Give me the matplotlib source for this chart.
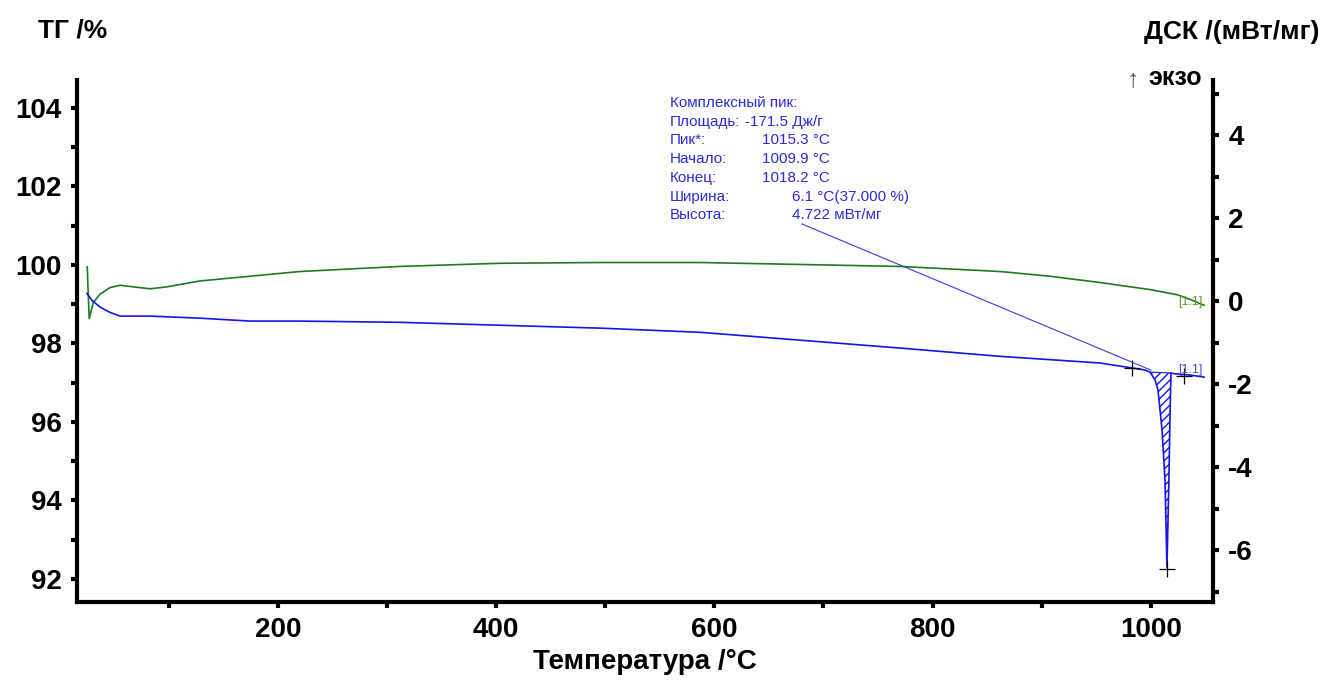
import numpy as np
import matplotlib.pyplot as plt
from matplotlib.ticker import MultipleLocator

plt.rcParams['font.family'] = ['Liberation Sans', 'DejaVu Sans']
plt.rcParams['axes.unicode_minus'] = False

# TG curve (green, left axis)
temp_tg = [25.2, 26.1, 27.0, 30.7, 36.8, 46.0, 55.2, 67.1, 82.7, 98.3, 128.5, 174.3,
           220.0, 311.8, 403.5, 495.0, 587.0, 678.5, 770.0, 862.0, 907.6, 953.4,
           999.3, 1024.0, 1036.0, 1048.8]
tg = [99.95, 99.25, 98.63, 99.04, 99.25, 99.42, 99.48, 99.44, 99.39, 99.44, 99.59, 99.71,
      99.83, 99.96, 100.04, 100.06, 100.06, 100.01, 99.96, 99.83, 99.71, 99.55,
      99.37, 99.24, 99.12, 98.97]

# DSC curve (blue, right axis)
temp_dsc = [24.9, 29.5, 36.8, 46.0, 55.2, 82.7, 128.5, 174.3, 220.2, 311.8, 403.5,
            495.1, 586.8, 678.5, 770.1, 861.8, 953.4, 982.8, 994.7, 999.3, 1003.9,
            1006.6, 1010.3, 1013.0, 1014.8, 1016.6, 1017.5, 1018.5, 1022.1, 1026.7,
            1035.9, 1048.8]
dsc = [0.19, 0.02, -0.14, -0.27, -0.36, -0.36, -0.41, -0.48, -0.48, -0.51, -0.58,
       -0.65, -0.75, -0.94, -1.13, -1.33, -1.49, -1.61, -1.66, -1.71, -1.90,
       -2.14, -3.11, -4.31, -6.41, -4.31, -2.87, -1.73, -1.75, -1.76,
       -1.78, -1.83]

# peak evaluation
peak_base_t = [999.3, 1018.5]
peak_base_dsc = [-1.71, -1.73]
cross_t = [982.8, 1014.8, 1030.4]
cross_dsc = [-1.61, -6.46, -1.80]

info_labels = ['Площадь:', 'Пик*:', 'Начало:', 'Конец:', 'Ширина:', 'Высота:']
info_values = ['-171.5 Дж/г', '1015.3 °C', '1009.9 °C', '1018.2 °C',
               '6.1 °C(37.000 %)', '4.722 мВт/мг']
info_x = [745, 762, 762, 762, 792, 792]

green = '#1f7a1f'
blue = '#1414e6'
txtblue = '#2b2bd6'

fig = plt.figure(figsize=(13.3, 6.8), dpi=100)
ax = fig.add_axes([77 / 1330, 1 - 602 / 680, (1213 - 77) / 1330, (602 - 80) / 680])
ax2 = ax.twinx()

ax.plot(temp_tg, tg, color=green, lw=1.2)
ax2.plot(temp_dsc, dsc, color=blue, lw=1.2)

# hatched peak area
t = np.array(temp_dsc)
d = np.array(dsc)
m = (t >= peak_base_t[0]) & (t <= peak_base_t[1])
base = np.interp(t[m], peak_base_t, peak_base_dsc)
ax2.fill_between(t[m], d[m], base, facecolor='none', edgecolor=blue, hatch='////', lw=0)
ax2.plot(peak_base_t, peak_base_dsc, color=blue, lw=0.8)
ax2.plot(cross_t, cross_dsc, '+', color='black', ms=12, mew=0.9)

# annotation line
ax2.plot([680.3, 1000.0], [1.86, -1.66], color='#3a3ae0', lw=0.8)

ax2.text(1025, -0.02, '[1.1]', color='#5a9a2a', fontsize=9, va='center')
ax2.text(1025, -1.66, '[1.1]', color='#4a4ad0', fontsize=9, va='center')

ax.set_xlim(15.8, 1057)
ax.set_ylim(91.41, 104.71)
ax2.set_ylim(-7.25, 5.33)

ax.xaxis.set_major_locator(MultipleLocator(200))
ax.xaxis.set_minor_locator(MultipleLocator(100))
ax.yaxis.set_major_locator(MultipleLocator(2))
ax.yaxis.set_minor_locator(MultipleLocator(1))
ax2.yaxis.set_major_locator(MultipleLocator(2))
ax2.yaxis.set_minor_locator(MultipleLocator(1))

for a in (ax, ax2):
    a.spines['top'].set_visible(False)
    for s in ('left', 'right', 'bottom'):
        a.spines[s].set_linewidth(3)
    a.tick_params(which='both', direction='out', length=4, width=3, labelsize=20, pad=7)
    for lab in a.get_xticklabels() + a.get_yticklabels():
        lab.set_fontweight('bold')
ax.spines['right'].set_visible(False)
ax2.spines['left'].set_visible(False)
ax2.spines['bottom'].set_visible(False)

ax.set_xlabel('Температура /°C', fontsize=20, fontweight='bold', labelpad=4)

fig.text(38 / 1330, 1 - 30 / 680, 'ТГ /%', fontsize=19, fontweight='bold', va='center')
fig.text(1320 / 1330, 1 - 32 / 680, 'ДСК /(мВт/мг)', fontsize=19, fontweight='bold',
         va='center', ha='right')
fig.text(1127 / 1330, 1 - 79 / 680, '↑', fontsize=18, color='#555577', va='center')
fig.text(1148 / 1330, 1 - 78 / 680, 'экзо', fontsize=18, fontweight='bold', va='center')

y0 = 103
fig.text(670 / 1330, 1 - y0 / 680, 'Комплексный пик:', fontsize=11, color=txtblue, va='center')
for i, (lab, val) in enumerate(zip(info_labels, info_values)):
    yy = 1 - (y0 + 18.7 * (i + 1)) / 680
    fig.text(670 / 1330, yy, lab, fontsize=11, color=txtblue, va='center')
    fig.text(info_x[i] / 1330, yy, val, fontsize=11, color=txtblue, va='center')

fig.savefig('out.png', dpi=100)
